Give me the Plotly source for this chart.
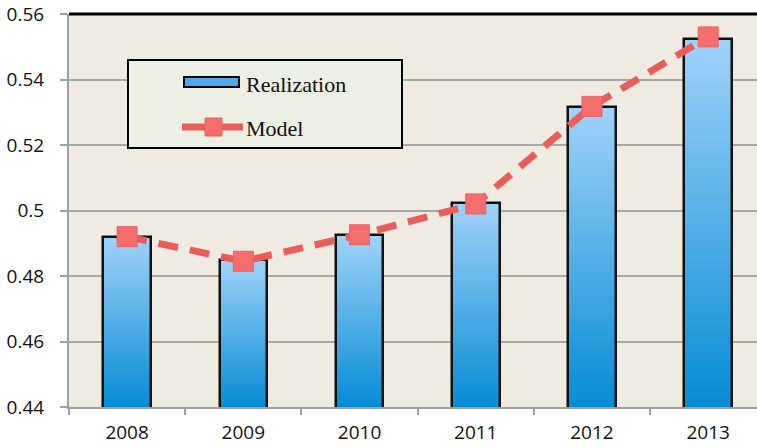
import plotly.graph_objects as go

years = ["2008", "2009", "2010", "2011", "2012", "2013"]
realization = [0.4918, 0.4848, 0.4925, 0.5022, 0.5315, 0.5525]
model = [0.4920, 0.4845, 0.4926, 0.5020, 0.5318, 0.5530]
y_ticks = [0.44, 0.46, 0.48, 0.50, 0.52, 0.54, 0.56]
y_ticktext = ["0.44", "0.46", "0.48", "0.5", "0.52", "0.54", "0.56"]
legend_names = ["Realization", "Model"]

W, H = 757, 448
ML, MR, MT, MB = 69, 0, 14, 41
PW, PH = W - ML - MR, H - MT - MB
Y0, Y1 = 0.44, 0.56


def px_x(p):
    return (p - ML) / PW


def px_y(p):
    return (H - MB - p) / PH


xpos = list(range(len(years)))

fig = go.Figure()

bar_w = 0.41
top_rgb = (160, 210, 249)
bot_rgb = (6, 140, 213)
N = 40
heights = [v - Y0 for v in realization]

for i in range(N):
    f = (i + 0.5) / N
    c = tuple(int(round(bot_rgb[k] + (top_rgb[k] - bot_rgb[k]) * f)) for k in range(3))
    fig.add_trace(go.Bar(
        x=xpos,
        y=[h / N * 1.03 for h in heights],
        base=[Y0 + h * i / N for h in heights],
        width=bar_w,
        marker=dict(color="rgb(%d,%d,%d)" % c, line=dict(width=0)),
        showlegend=False, hoverinfo="skip"))

fig.add_trace(go.Bar(x=xpos, y=realization, width=bar_w,
                     marker=dict(color="rgba(0,0,0,0)", line=dict(color="#111111", width=2.5)),
                     showlegend=False, name=legend_names[0]))

fig.add_trace(go.Scatter(
    x=xpos, y=model, mode="lines+markers", name=legend_names[1],
    line=dict(color="#EA5E5A", width=7, dash="20px,12px"),
    marker=dict(symbol="square", size=20, color="#F46E6E",
                line=dict(color="#EE6060", width=1)),
    showlegend=False, cliponaxis=False))

shapes = []
shapes.append(dict(type="line", xref="paper", yref="paper", x0=0, x1=1, y0=1, y1=1,
                   line=dict(color="#000000", width=3)))
shapes.append(dict(type="rect", xref="paper", yref="paper",
                   x0=px_x(128), x1=px_x(402), y0=px_y(148), y1=px_y(60),
                   fillcolor="#ECEFE3", line=dict(color="#000000", width=2)))
shapes.append(dict(type="rect", xref="paper", yref="paper",
                   x0=px_x(184), x1=px_x(239), y0=px_y(87), y1=px_y(77),
                   fillcolor="#4FA8EC", line=dict(color="#000000", width=2)))
shapes.append(dict(type="line", xref="paper", yref="paper",
                   x0=px_x(182), x1=px_x(243), y0=px_y(127), y1=px_y(127),
                   line=dict(color="#EA5E5A", width=7)))
shapes.append(dict(type="rect", xref="paper", yref="paper",
                   x0=px_x(205), x1=px_x(222), y0=px_y(136), y1=px_y(118),
                   fillcolor="#F46E6E", line=dict(color="#EE6060", width=1)))

annotations = [
    dict(xref="paper", yref="paper", x=px_x(244), y=px_y(84), text=legend_names[0],
         showarrow=False, xanchor="left", yanchor="middle",
         font=dict(family="Liberation Serif", size=22, color="#111111")),
    dict(xref="paper", yref="paper", x=px_x(244), y=px_y(128), text=legend_names[1],
         showarrow=False, xanchor="left", yanchor="middle",
         font=dict(family="Liberation Serif", size=22, color="#111111")),
]

fig.update_layout(
    width=W, height=H,
    margin=dict(l=ML, r=MR, t=MT, b=MB, pad=0),
    paper_bgcolor="#FFFFFF",
    plot_bgcolor="#EFEBE3",
    barmode="overlay",
    bargap=0,
    showlegend=False,
    shapes=shapes,
    annotations=annotations,
    font=dict(family="Open Sans", size=19, color="#111111"),
)

fig.update_xaxes(
    type="linear", range=[-0.5, 5.42], automargin=False,
    tickvals=xpos, ticktext=years, ticks="",
    showgrid=False, zeroline=False, showline=True, linecolor="#A0A0A0", linewidth=2,
    minor=dict(tick0=0.5, dtick=1, ticks="outside", ticklen=6, tickcolor="#A0A0A0",
               tickwidth=1.5, showgrid=False),
    ticklabelstandoff=7,
    tickfont=dict(family="Open Sans", size=19, color="#111111"),
)
fig.update_yaxes(
    range=[Y0, Y1], tickvals=y_ticks, ticktext=y_ticktext, automargin=False,
    showgrid=True, gridcolor="#A8A8A8", gridwidth=1.5,
    showline=True, linecolor="#A0A0A0", linewidth=2,
    ticks="outside", ticklen=7, tickcolor="#A0A0A0", tickwidth=1.5,
    ticklabelstandoff=12, zeroline=False,
    tickfont=dict(family="Open Sans", size=19, color="#111111"),
)

fig.write_html("out.html", config={"displayModeBar": False})
